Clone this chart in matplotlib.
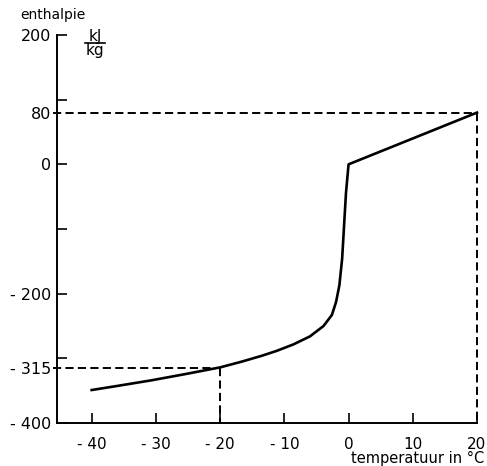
import matplotlib
matplotlib.use("Agg")
import matplotlib.pyplot as plt
from matplotlib.lines import Line2D

# Data (temperature in °C, enthalpy in kJ/kg)
temp = [-40, -35.9, -30.7, -25.5, -20, -16.6, -13.5, -11.2, -8.6, -6.0, -3.9,
        -2.6, -1.95, -1.43, -1.0, -0.7, -0.4, 0.0, 20]
enth = [-349, -342.5, -334, -324.5, -314, -305, -296, -288.5, -278.5, -266, -250,
        -233, -213, -187, -146, -95, -44, 0, 80]

ref_T1, ref_H1 = 20, 80
ref_T2, ref_H2 = -20, -315

xticks = [-40, -30, -20, -10, 0, 10, 20]
xlabels = ["- 40", "- 30", "- 20", "- 10", "0", "10", "20"]
yticks = [200, 100, 0, -100, -200, -300, -400]
ylabels = ["200", "", "0", "", "- 200", "", "- 400"]
yextra = [80, -315]
yextra_labels = ["80", "- 315"]

plt.rcParams['font.family'] = ['DejaVu Sans']
fig = plt.figure(figsize=(4.87, 4.66), dpi=100)
ax = fig.add_axes([57/487, 1-423/466, (477-57)/487, (423-35)/466])

ax.plot(temp, enth, color='black', lw=1.9, solid_joinstyle='round', clip_on=False)

dash = (0, (4.2, 2.2))
ax.plot([-46, ref_T1], [ref_H1, ref_H1], color='black', lw=1.4, linestyle=dash, clip_on=False)
ax.plot([ref_T1, ref_T1], [ref_H1, -400], color='black', lw=1.4, linestyle=dash, clip_on=False)
ax.plot([-46, ref_T2], [ref_H2, ref_H2], color='black', lw=1.4, linestyle=dash, clip_on=False)
ax.plot([ref_T2, ref_T2], [ref_H2, -400], color='black', lw=1.4, linestyle=dash, clip_on=False)

ax.set_xlim(-45.4, 20)
ax.set_ylim(-400, 200)

for s in ['top', 'right']:
    ax.spines[s].set_visible(False)
for s in ['left', 'bottom']:
    ax.spines[s].set_linewidth(1.4)

ax.set_xticks(xticks)
ax.set_xticklabels(xlabels, fontsize=11)
ax.set_yticks(yticks)
ax.set_yticklabels(ylabels, fontsize=11.5)
ax.set_yticks(yextra, minor=True)
ax.set_yticklabels(yextra_labels, minor=True, fontsize=11.5)
ax.tick_params(axis='both', which='major', direction='in', length=7, width=1.2)
ax.tick_params(axis='y', which='major', pad=4)
ax.tick_params(axis='y', which='minor', length=0, pad=4)
ax.tick_params(axis='x', pad=10)

fig.text(20/487, 1-15/466, "enthalpie", fontsize=10, ha='left', va='center')
fig.text(95/487, 1-36/466, "kJ", fontsize=11, ha='center', va='center')
fig.text(95/487, 1-51/466, "kg", fontsize=11, ha='center', va='center')
fig.add_artist(Line2D([85/487, 105/487], [1-43/466, 1-43/466], color='black', lw=1.2))
fig.text(484/487, 1-458/466, "temperatuur in °C", fontsize=10.5, ha='right', va='center')

fig.savefig("out.png", dpi=100)
